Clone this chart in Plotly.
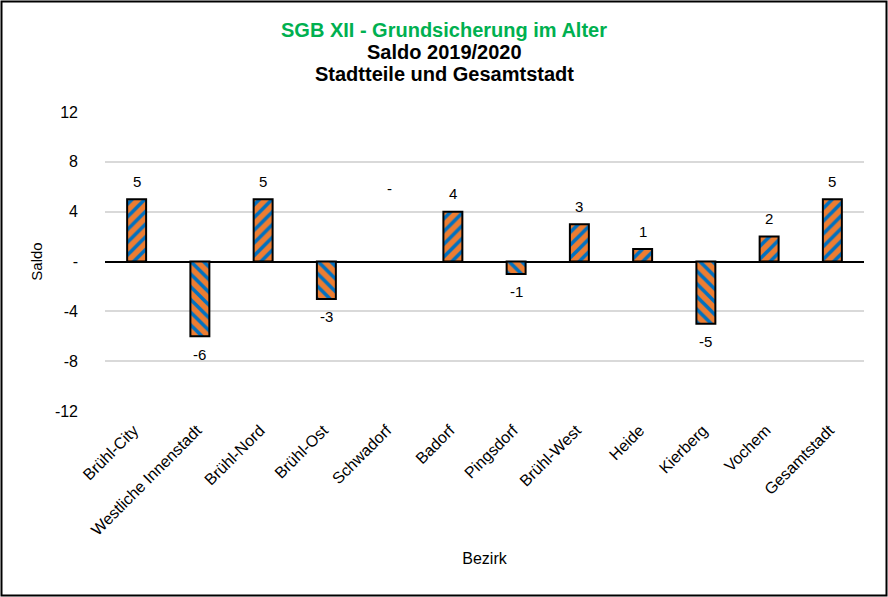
import plotly.graph_objects as go

categories = ["Brühl-City", "Westliche Innenstadt", "Brühl-Nord", "Brühl-Ost", "Schwadorf",
              "Badorf", "Pingsdorf", "Brühl-West", "Heide", "Kierberg", "Vochem", "Gesamtstadt"]
saldo = [5, -6, 5, -3, 0, 4, -1, 3, 1, -5, 2, 5]
ytick_vals = [-12, -8, -4, 0, 4, 8, 12]
ytick_text = ["-12", "-8", "-4", "-", "4", "8", "12"]

FONT = "Liberation Sans, Arial, sans-serif"

def fmt(v):
    return "-" if v == 0 else str(v)

shapes_pat = ["/" if v >= 0 else "\\" for v in saldo]
edge_w = [0 if v == 0 else 2 for v in saldo]

fig = go.Figure()
fig.add_trace(go.Bar(
    x=categories, y=saldo, width=0.3,
    marker=dict(color="#ED7D31", line=dict(color="black", width=edge_w),
                pattern=dict(shape=shapes_pat, fgcolor="#0070C0", bgcolor="#ED7D31",
                             fgopacity=1, size=9, solidity=0.4, fillmode="overlay")),
    hoverinfo="x+y",
))

annotations = []
for c, v in zip(categories, saldo):
    if v > 0:
        ys = 18
    elif v < 0:
        ys = -18
    else:
        ys = 73
    annotations.append(dict(x=c, y=v, text=fmt(v), showarrow=False, yshift=ys,
                            font=dict(size=15, color="black", family=FONT)))

W, H = 888, 597
L, R, T, B = 105, 24, 112, 186
pw, ph = W - L - R, H - T - B

titles = [("SGB XII - Grundsicherung im Alter", "#00B050", 30),
          ("Saldo 2019/2020", "black", 52),
          ("Stadtteile und Gesamtstadt", "black", 74)]
for t, col, ypx in titles:
    annotations.append(dict(xref="paper", yref="paper", x=(444 - L) / pw,
                            y=1 + (T - ypx) / ph, text="<b>%s</b>" % t, showarrow=False,
                            xanchor="center", yanchor="middle",
                            font=dict(size=20, color=col, family=FONT)))

fig.update_layout(
    width=W, height=H,
    margin=dict(l=L, r=R, t=T, b=B),
    paper_bgcolor="white", plot_bgcolor="white",
    font=dict(family=FONT, size=16, color="black"),
    showlegend=False,
    annotations=annotations,
    shapes=[dict(type="rect", xref="paper", yref="paper",
                 x0=-(L - 1.5) / pw, x1=1 + (R - 1.5) / pw,
                 y0=-(B - 1.5) / ph, y1=1 + (T - 1.5) / ph,
                 line=dict(color="black", width=2), fillcolor="rgba(0,0,0,0)", layer="above")],
    xaxis=dict(title=dict(text="Bezirk", font=dict(size=16), standoff=15),
               tickangle=-45, showgrid=False, showline=False, ticks="",
               ticklabelstandoff=6, ticklabelshift=-3,
               tickfont=dict(size=16)),
    yaxis=dict(title=dict(text="Saldo", font=dict(size=15), standoff=8),
               range=[-12, 12], tickvals=ytick_vals, ticktext=ytick_text,
               showgrid=True, gridcolor="#D9D9D9", gridwidth=2,
               zeroline=True, zerolinecolor="black", zerolinewidth=2,
               showline=False, ticks="", ticklabelstandoff=26,
               tickfont=dict(size=16)),
    bargap=0.7,
)

fig.write_html("out.html", config={"displayModeBar": False},
               post_script="document.body.style.margin='0';document.body.style.overflow='hidden';")
